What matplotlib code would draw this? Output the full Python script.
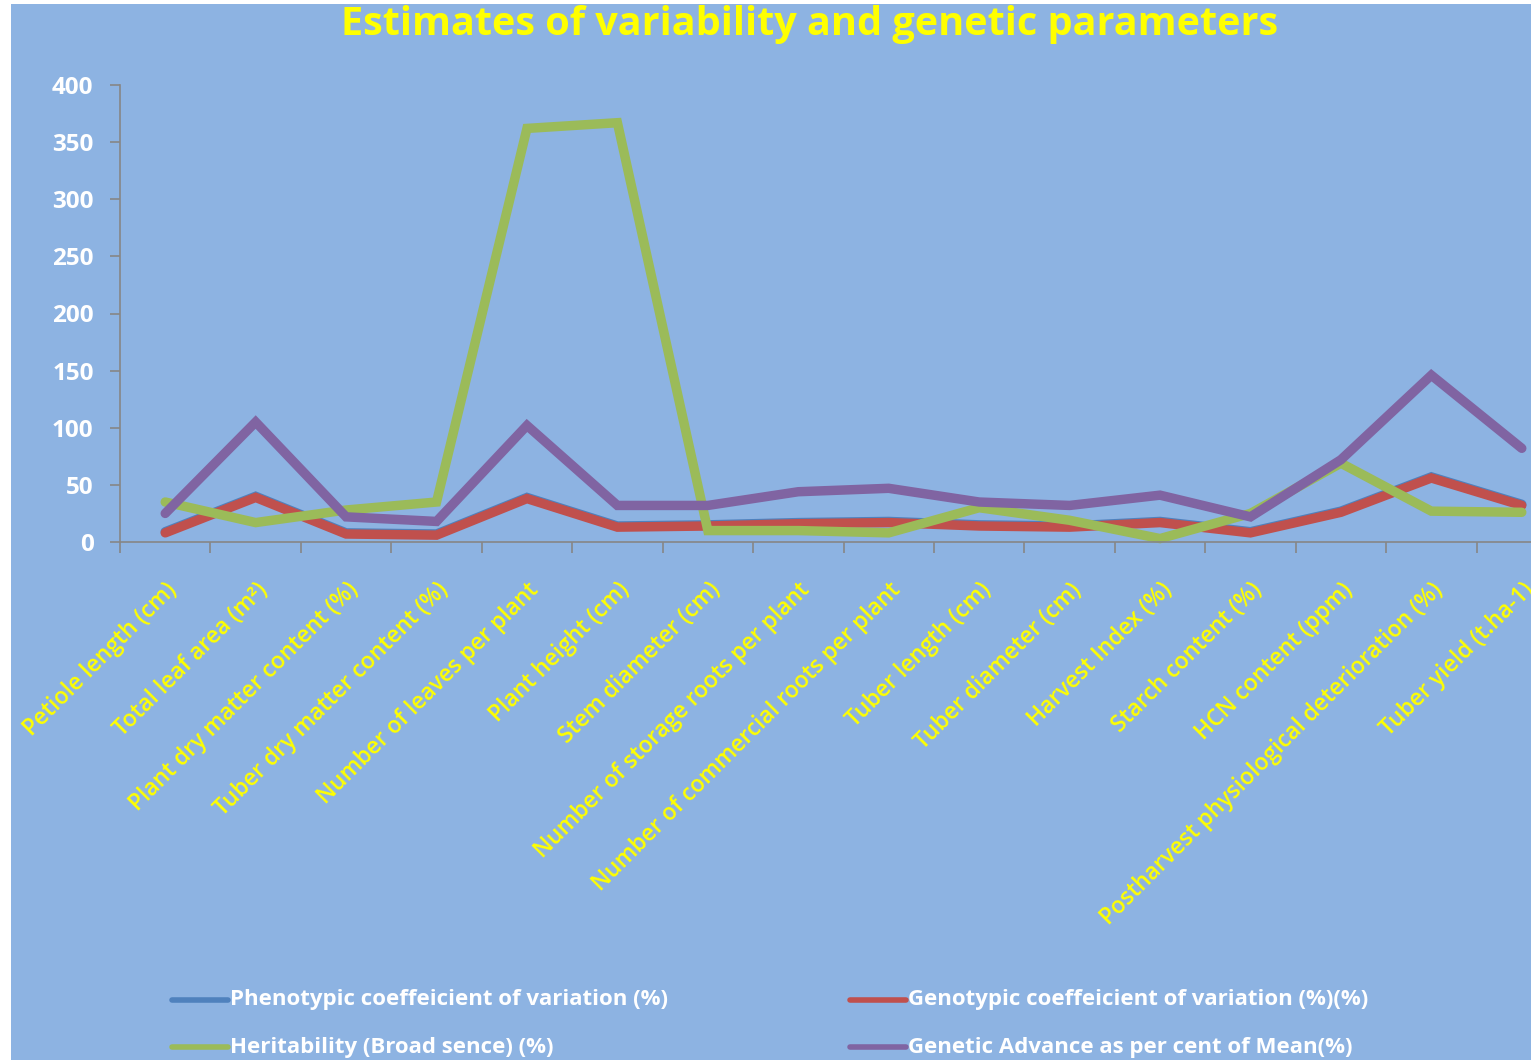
import matplotlib
matplotlib.use("Agg")
import matplotlib.pyplot as plt

plt.rcParams['font.family'] = ['Open Sans', 'DejaVu Sans']

# data
traits = ['Petiole length (cm)', 'Total leaf area (m\u00b2)', 'Plant dry matter content (%)',
          'Tuber dry matter content (%)', 'Number of leaves per plant', 'Plant height (cm)',
          'Stem diameter (cm)', 'Number of storage roots per plant',
          'Number of commercial roots per plant', 'Tuber length (cm)', 'Tuber diameter (cm)',
          'Harvest Index (%)', 'Starch content (%)', 'HCN content (ppm)',
          'Postharvest physiological deterioration (%)', 'Tuber yield (t.ha-1)']
pcv = [9, 40, 8, 7, 39, 14, 15, 17, 18, 15, 14, 18, 9, 27, 57, 33]
gcv = [8, 39, 7, 6, 38, 13, 14, 16, 17, 14, 13, 17, 8, 26, 56, 32]
herit = [35, 17, 28, 35, 362, 367, 10, 10, 8, 30, 19, 3, 25, 69, 27, 26]
ga = [25, 105, 22, 18, 102, 32, 32, 44, 47, 35, 32, 41, 22, 72, 146, 82]
yticks = [0, 50, 100, 150, 200, 250, 300, 350, 400]

series_names = ['Phenotypic coeffeicient of variation (%)', 'Genotypic coeffeicient of variation (%)(%)',
                'Heritability (Broad sence) (%)', 'Genetic Advance as per cent of Mean(%)']
colors = ['#4F81BD', '#C0504D', '#9BBB59', '#8064A2']

bg = '#8DB3E2'
W, H = 1531, 1060
fig = plt.figure(figsize=(W / 100, H / 100), dpi=100)
fig.patch.set_facecolor('white')
# blue panel behind everything
fig.patches.append(plt.Rectangle((11 / W, 0), 1, 1 - 4 / H, transform=fig.transFigure,
                                 facecolor=bg, edgecolor='none', zorder=-10))

ax = fig.add_axes([120 / W, 1 - 542 / H, 1447 / W, 457 / H])
ax.patch.set_alpha(0)

x = list(range(len(traits)))
lw = 6.8
for vals, c in zip([pcv, gcv, herit, ga], colors):
    ax.plot(x, vals, color=c, lw=lw, solid_capstyle='round', solid_joinstyle='miter', clip_on=False)

ax.set_xlim(-0.5, len(traits) - 0.5)
ax.set_ylim(0, 400)
ax.set_yticks(yticks)
ax.set_yticklabels([str(v) for v in yticks], color='white', fontsize=17.5, fontweight='bold')
ax.set_xticks(x)
ax.set_xticklabels(traits, rotation=45, ha='right', va='top', rotation_mode='anchor',
                   color='#FFFF00', fontsize=16.5, fontweight='semibold')
ax.set_xticks([i - 0.5 for i in range(len(traits) + 1)], minor=True)
ax.tick_params(axis='x', which='major', length=0, pad=26)
ax.tick_params(axis='x', which='minor', length=8, width=1.2, color='#868686', direction='out')
ax.tick_params(axis='y', length=7, width=1.2, color='#868686', pad=12)
for side in ['top', 'right']:
    ax.spines[side].set_visible(False)
for side in ['left', 'bottom']:
    ax.spines[side].set_color('#868686')
    ax.spines[side].set_linewidth(1.2)

fig.text(810 / W, 1 - 25 / H, 'Estimates of variability and genetic parameters',
         ha='center', va='center', color='#FFFF00', fontsize=28.5, fontweight='bold')

# legend, two columns of two rows
leg_pos = [(172, 1000), (850, 1000), (172, 1047), (850, 1047)]
for (lx, ly), name, c in zip(leg_pos, series_names, colors):
    fig.add_artist(plt.Line2D([lx / W, (lx + 56) / W], [1 - ly / H, 1 - ly / H],
                              transform=fig.transFigure, color=c, lw=4, solid_capstyle='round'))
    fig.text((lx + 58) / W, 1 - ly / H, name, ha='left', va='center', color='white',
             fontsize=16, fontweight='bold')

fig.savefig('out.png', dpi=100, facecolor='white')
